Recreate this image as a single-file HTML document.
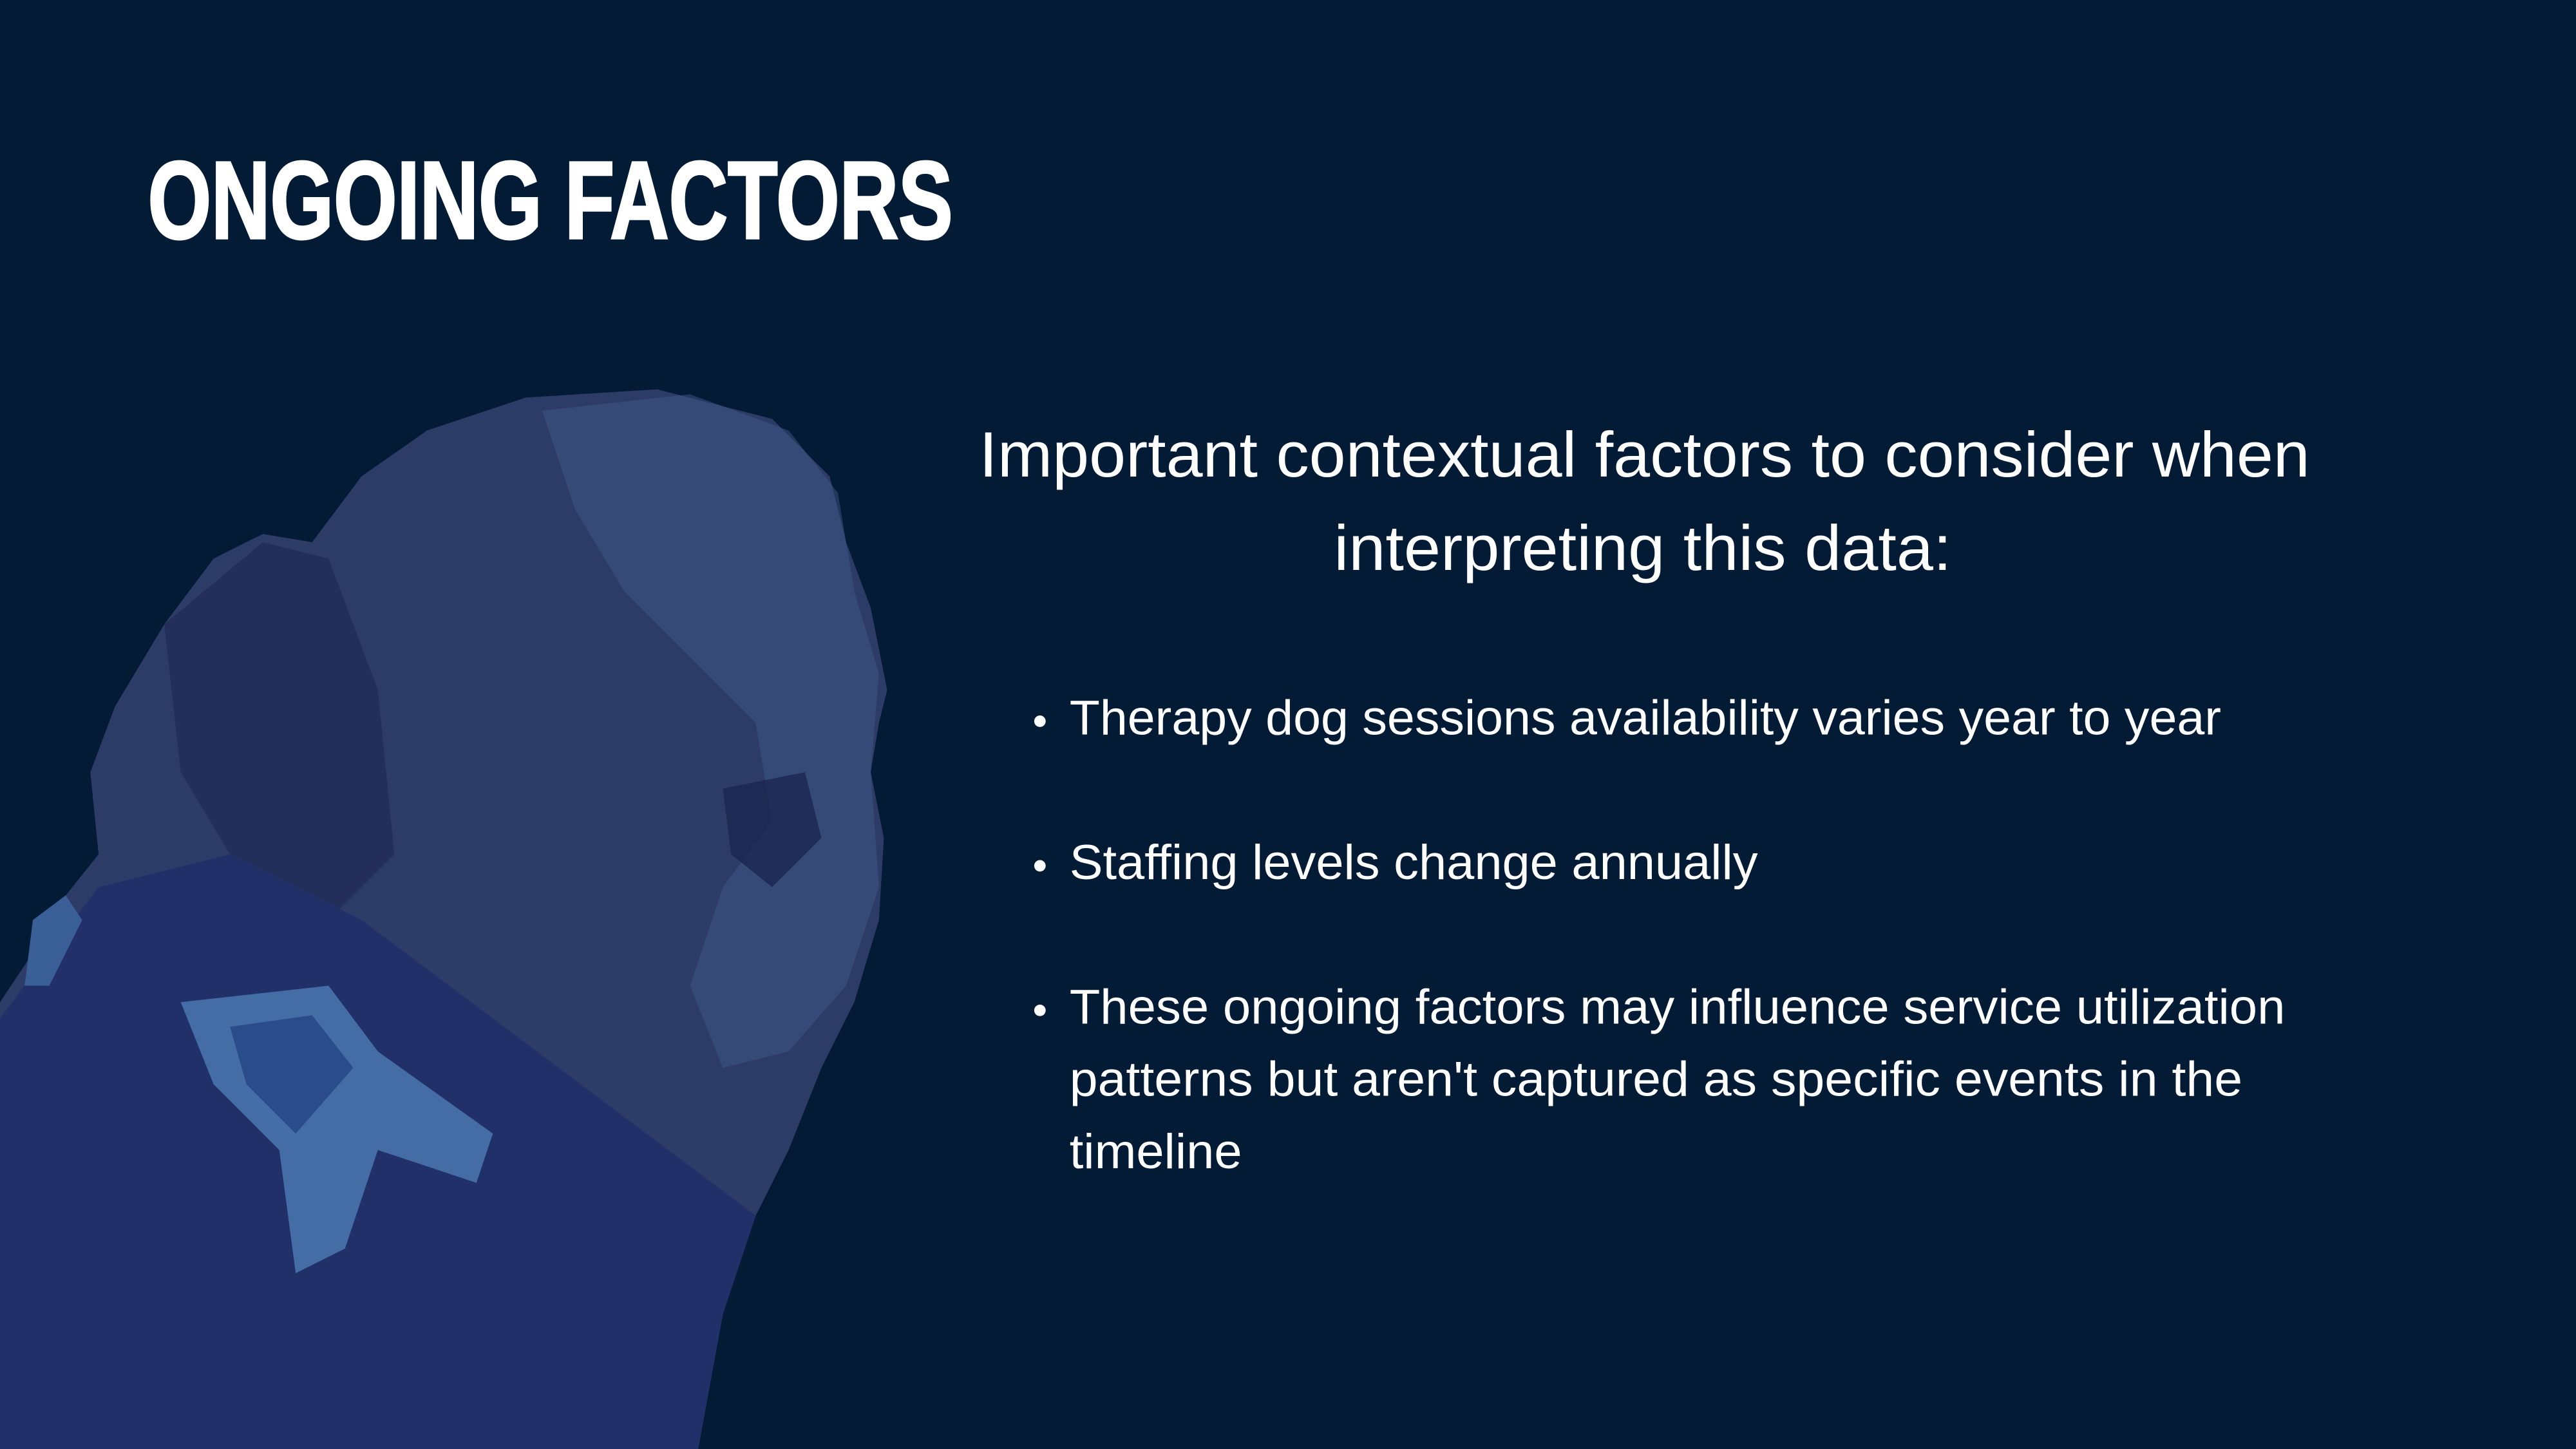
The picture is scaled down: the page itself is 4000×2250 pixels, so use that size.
<!DOCTYPE html>
<html><head><meta charset="utf-8"><style>
html,body{margin:0;padding:0;background:#041b36;}
svg{display:block}
</style></head><body>
<svg width="4000" height="2250" viewBox="0 0 1568 882" preserveAspectRatio="none" xmlns="http://www.w3.org/2000/svg">
<rect width="1568" height="882" fill="#041b36"/>
<g>
<path fill="#2d3c66" d="M0,882 L0,610 L20,580 L40,545 L60,520 L55,470 L70,430 L100,380 L130,340 L160,325 L190,330 L220,290 L260,262 L320,242 L400,237 L470,255 L505,290 L515,330 L530,370 L540,420 L535,440 L530,470 L538,510 L535,560 L520,610 L500,650 L480,700 L460,740 L440,800 L425,882 Z"/>
<path fill="#3f5888" opacity="0.5" d="M330,250 L420,240 L480,262 L510,300 L520,360 L535,410 L530,470 L535,540 L515,600 L480,640 L440,650 L420,600 L440,540 L470,500 L460,440 L420,400 L380,360 L350,310 Z"/>
<path fill="#1f2a55" opacity="0.7" d="M100,380 L160,330 L200,340 L230,420 L240,520 L200,560 L140,520 L110,470 Z"/>
<path fill="#22306a" d="M0,620 L60,540 L140,520 L220,560 L300,620 L380,680 L460,740 L440,800 L425,882 L0,882 Z"/>
<path fill="#4a78b0" opacity="0.85" d="M110,610 L200,600 L230,640 L300,690 L290,720 L230,700 L210,760 L180,775 L170,700 L130,660 Z"/>
<path fill="#2b4c8a" d="M140,625 L190,618 L215,650 L180,690 L150,660 Z"/>
<path fill="#3a5e96" d="M20,560 L40,545 L50,560 L30,600 L15,600 Z"/>
<path fill="#1b2550" opacity="0.8" d="M440,480 L490,470 L500,510 L470,540 L445,520 Z"/>
</g>
<text x="90" y="145" textLength="490" lengthAdjust="spacingAndGlyphs" font-family="Liberation Sans, sans-serif" font-weight="900" font-size="67" fill="#ffffff" stroke="#ffffff" stroke-width="1.5">ONGOING FACTORS</text>
<g font-family="Liberation Sans, sans-serif" fill="#ffffff" font-size="39">
<text x="596" y="290" textLength="810" lengthAdjust="spacingAndGlyphs">Important contextual factors to consider when</text>
<text x="812" y="347" textLength="376" lengthAdjust="spacingAndGlyphs">interpreting this data:</text>
</g>
<g font-family="Liberation Sans, sans-serif" fill="#ffffff" font-size="30">
<circle cx="633" cy="439" r="3.5" fill="#fff"/>
<text x="651" y="447" textLength="701" lengthAdjust="spacingAndGlyphs">Therapy dog sessions availability varies year to year</text>
<circle cx="633" cy="527" r="3.5" fill="#fff"/>
<text x="651" y="535" textLength="419" lengthAdjust="spacingAndGlyphs">Staffing levels change annually</text>
<circle cx="633" cy="615" r="3.5" fill="#fff"/>
<text x="651" y="623" textLength="740" lengthAdjust="spacingAndGlyphs">These ongoing factors may influence service utilization</text>
<text x="651" y="667" textLength="714" lengthAdjust="spacingAndGlyphs">patterns but aren't captured as specific events in the</text>
<text x="651" y="711" textLength="105" lengthAdjust="spacingAndGlyphs">timeline</text>
</g>
</svg>
</body></html>
